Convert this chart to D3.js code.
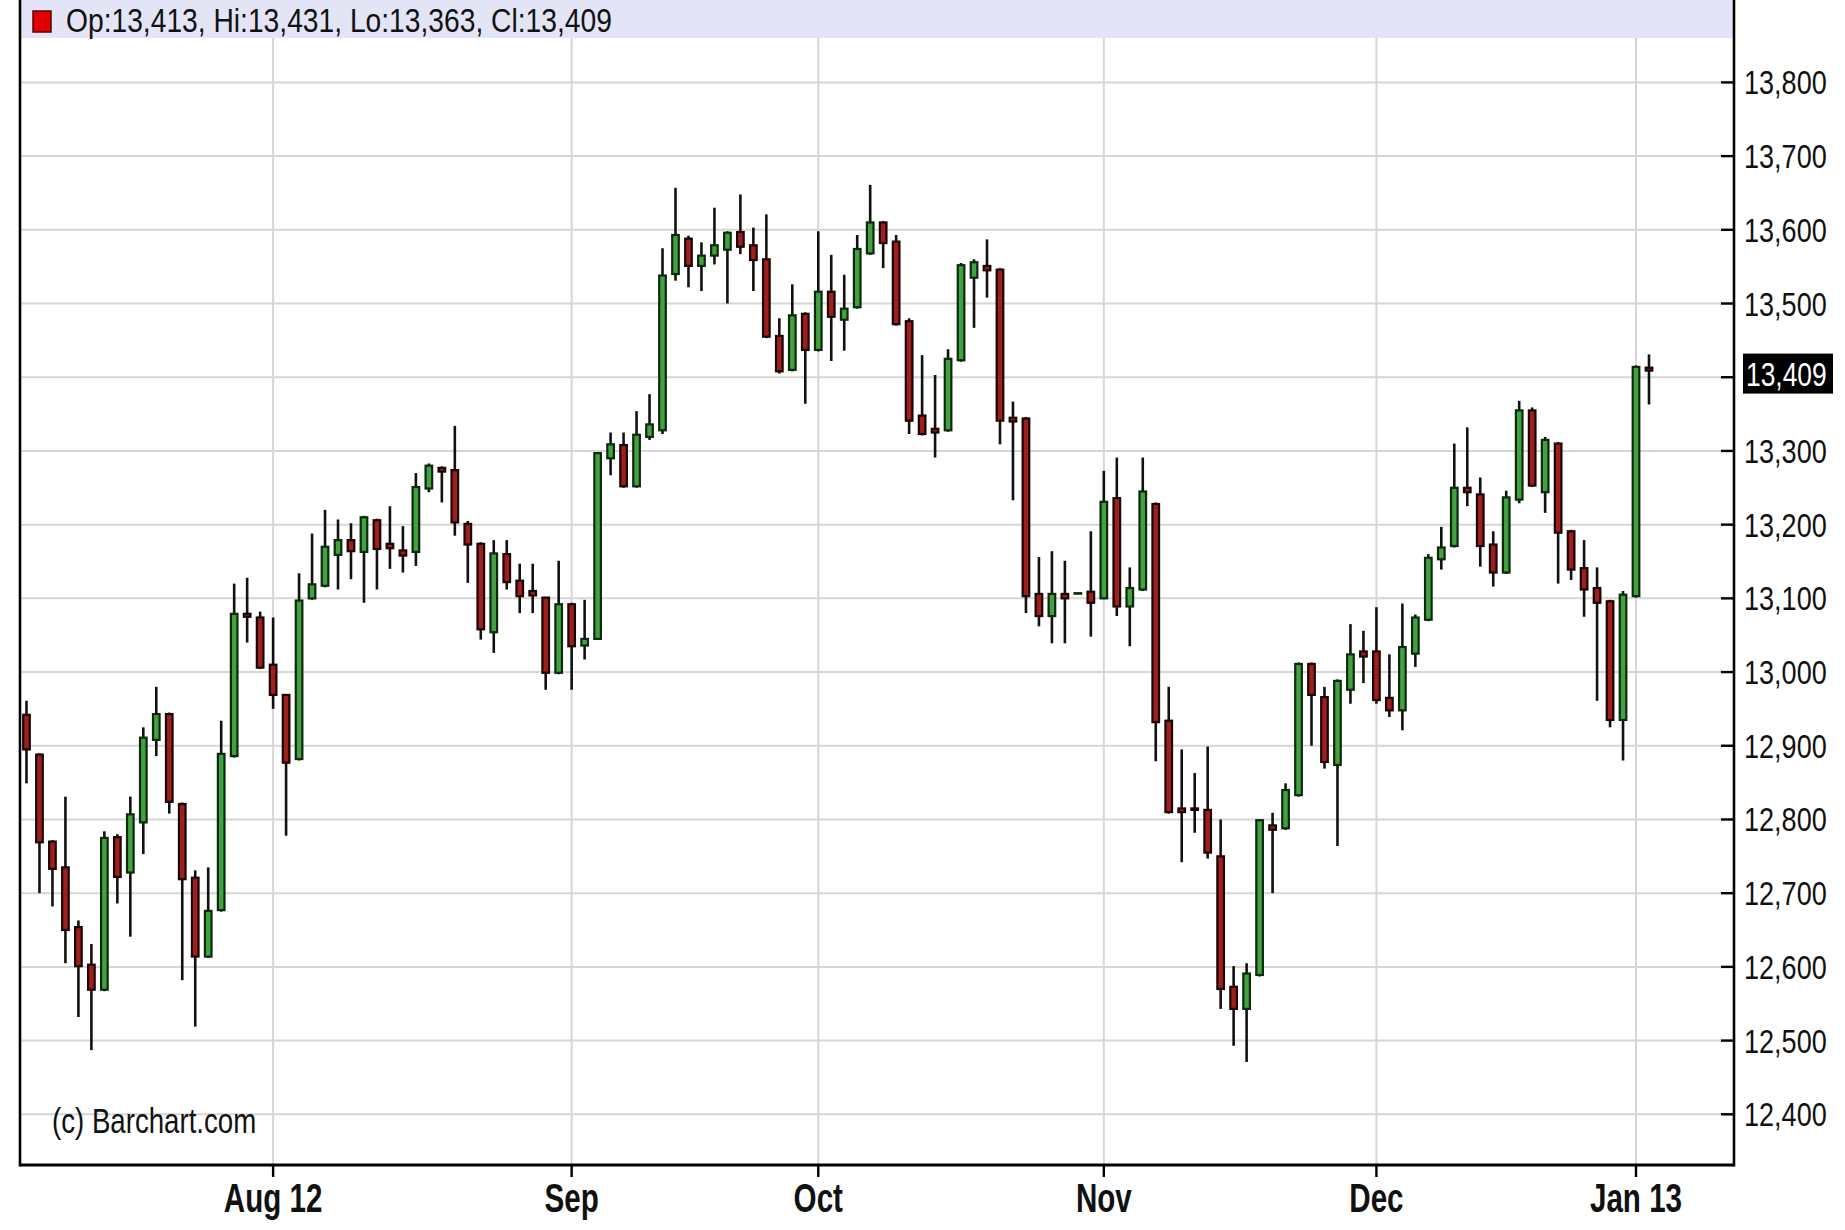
<!DOCTYPE html>
<html>
<head>
<meta charset="utf-8">
<script src="https://cdn.jsdelivr.net/npm/d3@7"></script>
<style>
  html, body { margin: 0; padding: 0; background: #fff; }
  svg { display: block; }
  text { font-family: "Liberation Sans", Arial, sans-serif; }
</style>
</head>
<body>
<svg id="chart" width="1845" height="1230"></svg>
<script>
// ---- Data (daily candles) ----
const opens = [12942,12888,12770,12735,12654,12603,12569,12776,12728,12796,12908,12943,12821,12721,12614,12677,12886,13079,13074,13010,
12969,12882,13100,13117,13159,13179,13163,13206,13174,13165,13163,13249,13277,13274,13201,13174,13054,13160,13124,13110,
13101,12999,13092,13036,13045,13290,13308,13252,13319,13328,13540,13588,13551,13565,13573,13597,13579,13560,13456,13410,
13486,13437,13516,13478,13495,13568,13610,13584,13476,13348,13330,13328,13423,13535,13551,13546,13345,13344,13106,13076,
13106,13107,13109,13100,13236,13089,13112,13228,12934,12815,12815,12813,12750,12573,12543,12589,12792,12788,12833,13011,
12966,12874,12976,13028,13028,12965,12948,13025,13071,13153,13171,13250,13241,13173,13135,13234,13355,13244,13310,13191,
13141,13114,13096,12935,13103,13413];
const highs = [12961,12890,12772,12831,12663,12631,12784,12780,12831,12925,12980,12945,12823,12731,12735,12934,13120,13128,13082,13074,
12970,13134,13188,13220,13207,13202,13212,13208,13225,13198,13270,13283,13279,13334,13205,13176,13179,13179,13147,13147,
13102,13151,13094,13098,13298,13325,13325,13354,13377,13575,13657,13592,13583,13630,13598,13648,13603,13621,13480,13526,
13488,13598,13566,13539,13593,13661,13612,13593,13480,13430,13403,13438,13555,13560,13587,13548,13367,13346,13156,13164,
13151,13107,13191,13273,13291,13142,13291,13230,12980,12895,12863,12899,12800,12601,12605,12800,12809,12849,13013,13013,
12980,12990,13065,13056,13088,13024,13093,13078,13160,13197,13310,13332,13264,13191,13246,13368,13359,13319,13312,13193,
13179,13142,13098,13110,13416,13431];
const lows = [12849,12700,12682,12605,12532,12487,12567,12686,12641,12753,12886,12808,12582,12519,12612,12675,12884,13040,13004,12950,
12778,12880,13098,13115,13112,13126,13094,13112,13140,13135,13144,13244,13230,13185,13121,13044,13026,13112,13080,13080,
12976,12997,12976,13017,13044,13267,13250,13250,13315,13323,13531,13522,13517,13553,13500,13567,13517,13453,13405,13408,
13364,13435,13422,13436,13493,13566,13548,13470,13323,13321,13291,13326,13421,13467,13508,13309,13233,13080,13062,13039,
13039,13107,13048,13099,13076,13035,13110,12879,12808,12742,12782,12747,12543,12493,12471,12587,12700,12786,12831,12900,
12869,12764,12957,12985,12957,12939,12921,13007,13069,13139,13169,13225,13143,13116,13133,13229,13251,13216,13120,13125,
13075,12961,12925,12880,13101,13363];
const closes = [12895,12769,12733,12650,12601,12569,12775,12722,12807,12911,12943,12824,12719,12614,12676,12889,13079,13075,13006,12969,
12877,13097,13119,13170,13179,13164,13210,13167,13168,13158,13251,13280,13272,13203,13173,13058,13161,13122,13103,13104,
12999,13092,13035,13045,13297,13309,13252,13322,13336,13538,13593,13551,13565,13579,13596,13577,13559,13455,13408,13484,
13437,13516,13482,13493,13574,13610,13582,13472,13341,13323,13325,13425,13552,13556,13545,13341,13340,13103,13076,13106,
13100,13107,13094,13231,13089,13114,13245,12932,12810,12810,12813,12755,12570,12543,12591,12799,12786,12840,13011,12969,
12878,12988,13024,13021,12962,12948,13034,13074,13155,13169,13250,13244,13171,13135,13237,13355,13253,13315,13189,13139,
13112,13094,12935,13105,13414,13409];

// x-axis ticks: candle number (1-based) of the first session of each month
const monthTickCandle = [20, 43, 62, 84, 105, 125];
const monthTickLabels = ["Aug 12", "Sep", "Oct", "Nov", "Dec", "Jan 13"];

// y-axis ticks
const priceTicks = [12400,12500,12600,12700,12800,12900,13000,13100,13200,13300,13400,13500,13600,13700,13800];
const lastPrice = 13409;
const headerText = "Op:13,413, Hi:13,431, Lo:13,363, Cl:13,409";
const watermark = "(c) Barchart.com";

// ---- Layout ----
const W = 1845, H = 1230;
const plotL = 20, plotR = 1734, plotT = 0, plotB = 1165;
const headerH = 38;
const step = 12.98;

const svg = d3.select("#chart");
const n = opens.length;
const candles = d3.range(n).map(i => ({ k: i + 1, o: opens[i], h: highs[i], l: lows[i], c: closes[i] }));

const x = d3.scaleBand()
  .domain(d3.range(1, n + 1))
  .range([plotL, plotL + step * n])
  .paddingInner(0).paddingOuter(0);
const cx = k => x(k) + x.bandwidth() / 2;

const y = d3.scaleLinear().domain([12400, 13800]).range([1114.3, 82.4]);

// background
svg.append("rect").attr("x", 0).attr("y", 0).attr("width", W).attr("height", H).attr("fill", "#fff");

// horizontal grid
svg.append("g").selectAll("line").data(priceTicks).join("line")
  .attr("x1", plotL).attr("x2", plotR)
  .attr("y1", d => y(d)).attr("y2", d => y(d))
  .attr("stroke", "#d6d6d6").attr("stroke-width", 2);

// vertical grid
svg.append("g").selectAll("line").data(monthTickCandle).join("line")
  .attr("x1", d => cx(d)).attr("x2", d => cx(d))
  .attr("y1", plotT).attr("y2", plotB)
  .attr("stroke", "#d6d6d6").attr("stroke-width", 2);

// header band
svg.append("rect").attr("x", plotL).attr("y", 0).attr("width", plotR - plotL).attr("height", headerH)
  .attr("fill", "#e4e4f7");
svg.append("rect").attr("x", 33).attr("y", 11).attr("width", 18).attr("height", 21)
  .attr("fill", "#e00000").attr("stroke", "#5a0000").attr("stroke-width", 1.5);
svg.append("text").attr("transform", "translate(66,32) scale(0.83,1)")
  .attr("font-size", 34).attr("fill", "#111").text(headerText);

// candles
const g = svg.append("g");
g.selectAll("line.wick").data(candles.filter(d => d.h !== d.l)).join("line")
  .attr("class", "wick")
  .attr("x1", d => cx(d.k)).attr("x2", d => cx(d.k))
  .attr("y1", d => y(d.h)).attr("y2", d => y(d.l))
  .attr("stroke", "#111").attr("stroke-width", 2.6);
const bw = 6.6;
g.selectAll("rect.body").data(candles).join("rect")
  .attr("class", "body")
  .attr("x", d => cx(d.k) - bw / 2).attr("width", bw)
  .attr("y", d => y(Math.max(d.o, d.c)))
  .attr("height", d => Math.max(Math.abs(y(d.o) - y(d.c)), 0.5))
  .attr("fill", d => d.c >= d.o ? "#43a043" : "#a11e1e")
  .attr("stroke", d => d.c >= d.o ? "#0d2a0d" : "#1a0505")
  .attr("stroke-width", 2.2);

// borders
svg.append("line").attr("x1", plotL).attr("x2", plotL).attr("y1", 0).attr("y2", plotB + 1.5)
  .attr("stroke", "#000").attr("stroke-width", 2.6);
svg.append("line").attr("x1", plotR).attr("x2", plotR).attr("y1", 0).attr("y2", plotB + 1.5)
  .attr("stroke", "#000").attr("stroke-width", 2.6);
svg.append("line").attr("x1", plotL).attr("x2", plotR).attr("y1", plotB).attr("y2", plotB)
  .attr("stroke", "#000").attr("stroke-width", 3);

// right axis ticks & labels
svg.append("g").selectAll("line").data(priceTicks).join("line")
  .attr("x1", plotR - 13).attr("x2", plotR)
  .attr("y1", d => y(d)).attr("y2", d => y(d))
  .attr("stroke", "#000").attr("stroke-width", 2.4);
const fmt = d3.format(",");
svg.append("g").selectAll("text").data(priceTicks.filter(d => Math.abs(d - lastPrice) > 40)).join("text")
  .attr("transform", d => `translate(1744,${y(d) + 12}) scale(0.82,1)`)
  .attr("font-size", 33).attr("fill", "#111").text(d => fmt(d));
// last price highlight
svg.append("rect").attr("x", 1743).attr("y", y(lastPrice) - 17).attr("width", 90).attr("height", 40).attr("fill", "#000");
svg.append("text").attr("transform", `translate(1746,${y(lastPrice) + 15}) scale(0.8,1)`)
  .attr("font-size", 33).attr("fill", "#fff").text(fmt(lastPrice));

// bottom ticks & labels
svg.append("g").selectAll("line").data(monthTickCandle).join("line")
  .attr("x1", d => cx(d)).attr("x2", d => cx(d))
  .attr("y1", plotB).attr("y2", plotB + 12)
  .attr("stroke", "#000").attr("stroke-width", 2.4);
svg.append("g").selectAll("text").data(monthTickCandle).join("text")
  .attr("transform", d => `translate(${cx(d)},1212) scale(0.74,1)`)
  .attr("text-anchor", "middle").attr("font-weight", "bold")
  .attr("font-size", 40).attr("fill", "#111")
  .text((d, i) => monthTickLabels[i]);

// watermark
svg.append("text").attr("transform", "translate(52,1133) scale(0.79,1)")
  .attr("font-size", 35).attr("fill", "#111").text(watermark);
</script>
</body>
</html>
